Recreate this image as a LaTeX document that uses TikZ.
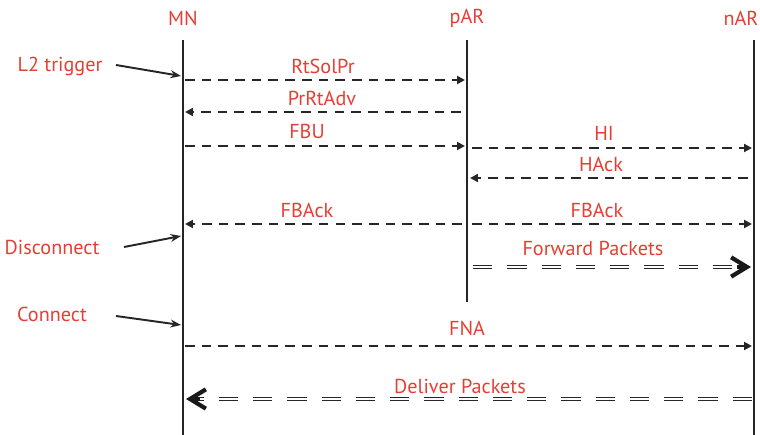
\documentclass[tikz,border=0pt]{standalone}
\usepackage{fontspec}
\setmainfont{PT Sans}
\usetikzlibrary{arrows.meta}
\definecolor{msgred}{RGB}{230,62,50}

\begin{document}
\begin{tikzpicture}[x=0.02cm, y=-0.02cm]
  \tikzstyle{lifeline}=[line width=1.4pt, black!85]
  \tikzstyle{entity}=[text=msgred, font=\fontsize{11.5}{13}\selectfont, inner sep=0pt]
  \tikzstyle{msg}=[dash pattern=on 5.5pt off 4pt, line width=1.3pt, black!85, -{Triangle[length=4.5pt,width=4.5pt]}]
  \tikzstyle{event}=[line width=1.1pt, black!85, -{Stealth[length=6pt,width=4.5pt]}]
  \tikzstyle{packets}=[draw=black!85, double=white, double distance=0.6pt, line width=0.9pt, dash pattern=on 11pt off 8.5pt]
  \tikzstyle{bigtip}=[line width=2.4pt, black!90, -{Straight Barb[length=9pt,width=11pt]}]
  \useasboundingbox (0,0) rectangle (760,435);

  % entities and lifelines
  \node[entity] (MN)  at (183,18) {MN};
  \node[entity] (pAR) at (467,18) {pAR};
  \node[entity] (nAR) at (741,18) {nAR};
  \coordinate (mn-top)  at (183,40);  \coordinate (mn-bot)  at (183,435);
  \coordinate (par-top) at (467,40);  \coordinate (par-bot) at (467,302);
  \coordinate (nar-top) at (754,40);  \coordinate (nar-bot) at (754,435);
  \draw[lifeline] (mn-top) -- (mn-bot);
  \draw[lifeline] (par-top) -- (par-bot);
  \draw[lifeline] (nar-top) -- (nar-bot);

  % events on the MN side
  \node[entity] (trig) at (60,66)  {L2 trigger};
  \node[entity] (disc) at (52,247) {Disconnect};
  \node[entity] (conn) at (52,314) {Connect};
  \coordinate (trig-in) at (181,76);
  \coordinate (disc-in) at (181,236);
  \coordinate (conn-in) at (181,325);
  \draw[event] (116,65) -- (trig-in);
  \draw[event] (124,247) -- (disc-in);
  \draw[event] (116,316) -- (conn-in);

  % signalling
  \coordinate (mn1) at (185,80);   \coordinate (par1) at (465,80);
  \coordinate (mn2) at (185,112);  \coordinate (par2) at (461,112);
  \coordinate (mn3) at (185,146);  \coordinate (par3) at (465,146);
  \coordinate (par4) at (472,148); \coordinate (nar4) at (752,148);
  \coordinate (par5) at (470,178); \coordinate (nar5) at (748,178);
  \coordinate (mn6) at (185,224);  \coordinate (par6) at (462,224);
  \coordinate (par7) at (472,224); \coordinate (nar7) at (752,224);
  \coordinate (mn9) at (185,346);  \coordinate (nar9) at (752,346);
  \draw[msg] (mn1) -- (par1);
  \draw[msg] (par2) -- (mn2);
  \draw[msg] (mn3) -- (par3);
  \draw[msg] (par4) -- (nar4);
  \draw[msg] (nar5) -- (par5);
  \draw[msg] (par6) -- (mn6);
  \draw[msg] (par7) -- (nar7);
  \draw[msg] (mn9) -- (nar9);
  \node[entity] at (323,66)  {RtSolPr};
  \node[entity] at (322,98)  {PrRtAdv};
  \node[entity] at (307,131) {FBU};
  \node[entity] at (604,133) {HI};
  \node[entity] at (601,164) {HAck};
  \node[entity] at (307,210) {FBAck};
  \node[entity] at (597,210) {FBAck};
  \node[entity] at (467,328) {FNA};

  % data packets
  \coordinate (fwd-a) at (473,267); \coordinate (fwd-b) at (751,267);
  \coordinate (del-a) at (752,399); \coordinate (del-b) at (186,399);
  \draw[packets] (fwd-a) -- ([xshift=-7pt]fwd-b);
  \draw[bigtip] ([xshift=-8pt]fwd-b) -- (fwd-b);
  \draw[packets] (del-a) -- ([xshift=7pt]del-b);
  \draw[bigtip] ([xshift=8pt]del-b) -- (del-b);
  \node[entity] at (593,248) {Forward Packets};
  \node[entity] at (460,386) {Deliver Packets};
\end{tikzpicture}
\end{document}
